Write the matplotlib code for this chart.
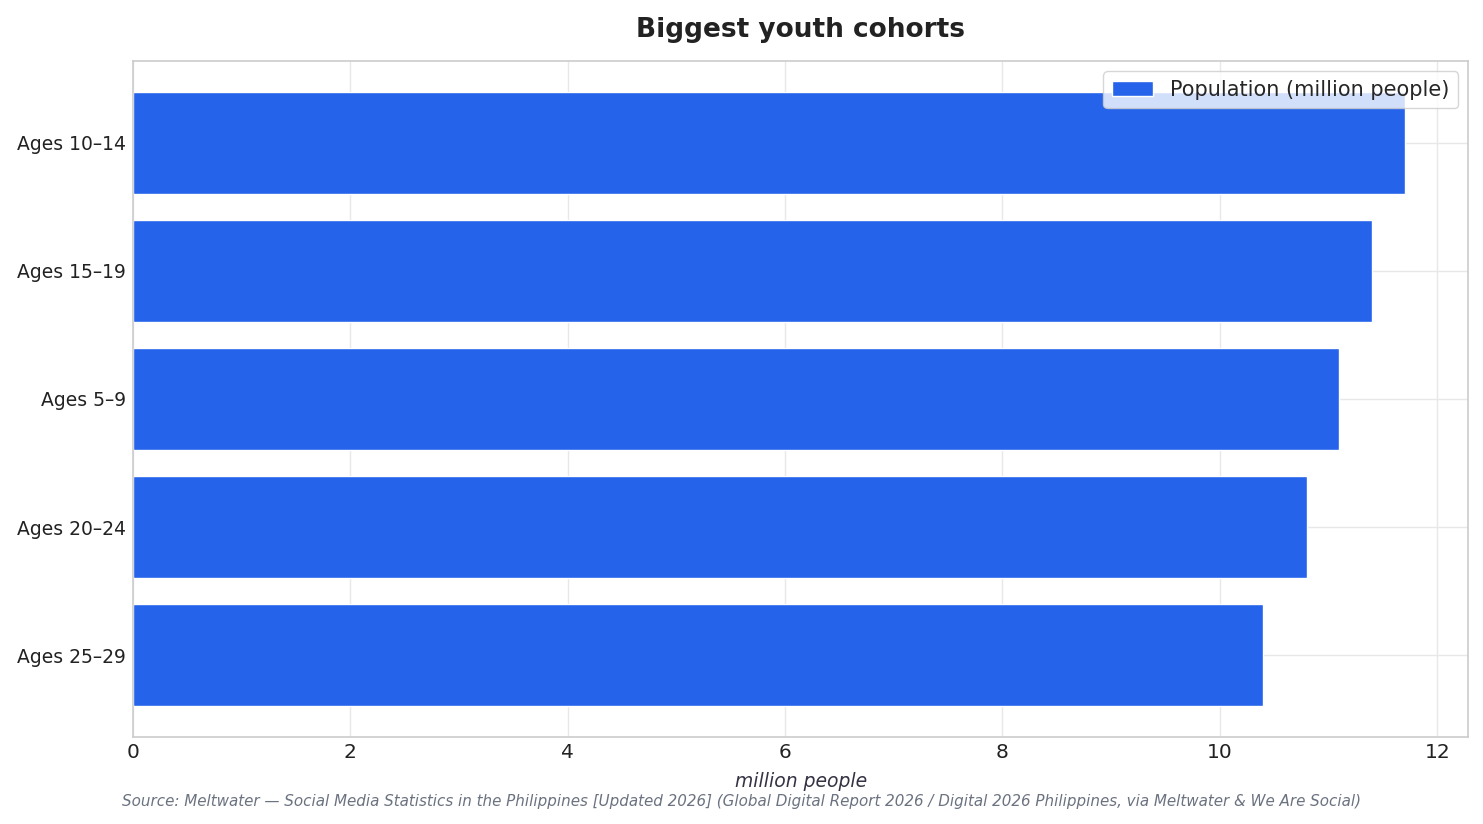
import matplotlib
matplotlib.use("Agg")
import matplotlib.pyplot as plt
import seaborn as sns

sns.set_theme(style="whitegrid")
plt.rcParams['font.family'] = ['DejaVu Sans']

age_groups = ["Ages 10–14", "Ages 15–19", "Ages 5–9", "Ages 20–24", "Ages 25–29"]
population = [11.7, 11.4, 11.1, 10.8, 10.4]

fig, ax = plt.subplots(figsize=(14.83, 8.24), dpi=100)
fig.subplots_adjust(left=0.0897, right=0.990, top=0.926, bottom=0.1056)

ax.barh(age_groups, population, height=0.8, color="#2563EB",
        label="Population (million people)", zorder=2)
ax.invert_yaxis()

ax.set_title("Biggest youth cohorts", fontsize=19, fontweight="bold",
             color="#222222", pad=17)
ax.set_xlabel("million people", fontsize=13.5, style="italic", color="#333344",
              labelpad=7.5)
ax.tick_params(axis="x", labelsize=14.5, colors="#222222", length=0, pad=4)
ax.tick_params(axis="y", labelsize=13.5, colors="#222222", length=0, pad=5)
for s in ax.spines.values():
    s.set_color("#cccccc")
    s.set_linewidth(1.2)
ax.grid(color="#e8e8e8")

ax.legend(loc="upper right", fontsize=15, frameon=True, fancybox=True,
          framealpha=0.8, borderaxespad=0.5)

fig.text(0.5, 0.022, "Source: Meltwater — Social Media Statistics in the Philippines [Updated 2026] "
         "(Global Digital Report 2026 / Digital 2026 Philippines, via Meltwater & We Are Social)",
         ha="center", fontsize=10.9, style="italic", color="#6b7280")

fig.savefig("out.png", dpi=100)
